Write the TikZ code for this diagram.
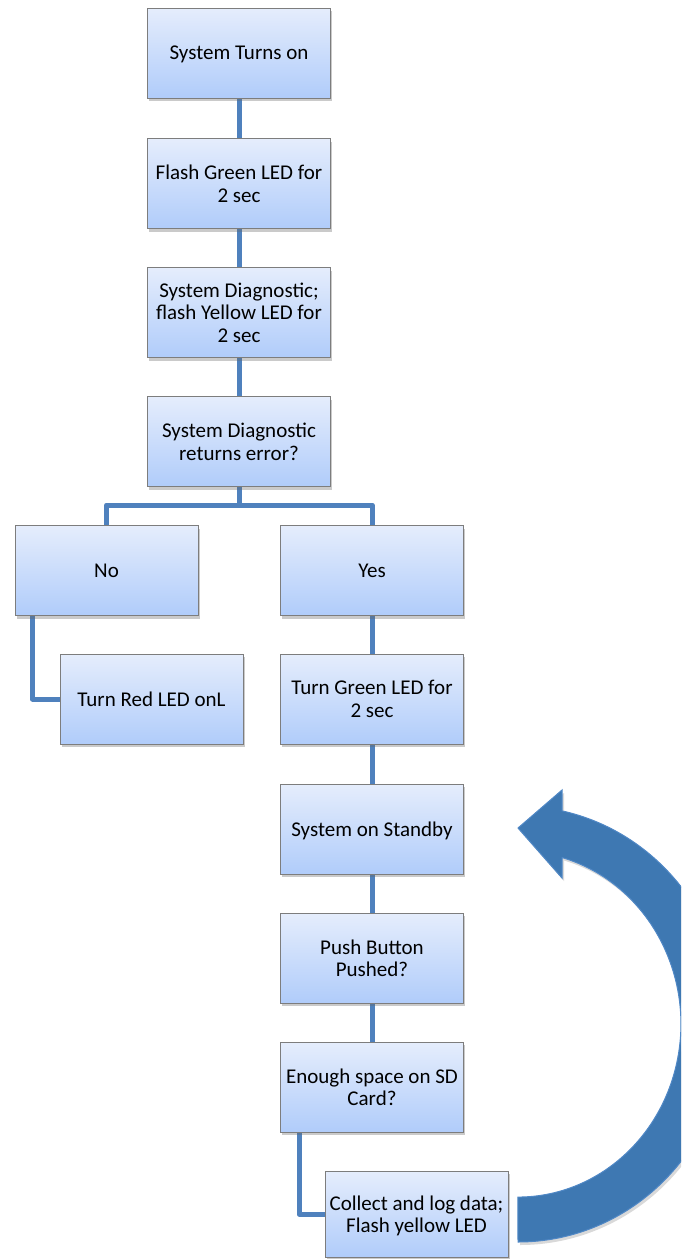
\documentclass[tikz,border=0pt]{standalone}
\usepackage{fontspec}
\setmainfont{Carlito}
\usetikzlibrary{shadows,backgrounds}
\definecolor{boxtop}{RGB}{229,237,252}
\definecolor{boxbot}{RGB}{176,204,250}
\definecolor{boxline}{RGB}{125,125,125}
\definecolor{conn}{RGB}{79,129,189}
\definecolor{arrowfill}{RGB}{62,120,178}
\definecolor{arrowline}{RGB}{80,136,198}
\newcommand\loopArrowPath{(518,-1242) arc[start angle=-90, end angle=77.9, x radius=210pt, y radius=218pt] -- (562,-790) -- (518,-828) -- (562,-878) -- (562,-857.5) arc[start angle=74.3, end angle=-90, x radius=163pt, y radius=173pt] -- cycle}
\tikzset{
  flowbox/.style={draw=boxline, line width=1pt, top color=boxtop, bottom color=boxbot,
    minimum width=183pt, minimum height=90pt, inner sep=2pt, align=center,
    text depth=0pt, font=\fontsize{21}{22.5}\selectfont,
    drop shadow={shadow xshift=1.5pt, shadow yshift=-3pt, opacity=0.35, fill=black!60}},
  link/.style={draw=conn, line width=5pt, line join=round}
}
\begin{document}
\begin{tikzpicture}[x=1pt,y=1pt]
\useasboundingbox (0,0) rectangle (681,-1259);
\node[flowbox] (b1) at (239,-53) {System Turns on};
\node[flowbox] (b2) at (239,-183.5) {Flash Green LED for\\2 sec};
\node[flowbox] (b3) at (239,-312.5) {System Diagnostic;\\flash Yellow LED for\\2 sec};
\node[flowbox] (b4) at (239,-441.5) {System Diagnostic\\returns error?};
\node[flowbox] (no) at (106.5,-570.5) {No};
\node[flowbox] (yes) at (372,-570.5) {Yes};
\node[flowbox] (red) at (151.5,-699) {Turn Red LED onL};
\node[flowbox] (green) at (372,-699) {Turn Green LED for\\2 sec};
\node[flowbox] (standby) at (372,-829) {System on Standby};
\node[flowbox] (push) at (372,-958) {Push Button\\Pushed?};
\node[flowbox] (space) at (372,-1087) {Enough space on SD\\Card?};
\node[flowbox, minimum height=86pt] (collect) at (416.5,-1214) {Collect and log data;\\Flash yellow LED};
\coordinate (bar) at (239,-505);
\begin{scope}[on background layer]
\draw[link] (b1) -- (b2);
\draw[link] (b2) -- (b3);
\draw[link] (b3) -- (b4);
\draw[link] (b4.south) -- (bar);
\draw[link] (no.north) |- (bar) -| (yes.north);
\draw[link] ([xshift=18pt]no.south west) |- (red.west);
\draw[link] (yes) -- (green);
\draw[link] (green) -- (standby);
\draw[link] (standby) -- (push);
\draw[link] (push) -- (space);
\draw[link] ([xshift=19pt]space.south west) |- (collect.west);
\end{scope}
\begin{scope}
\clip (0,0) rectangle (681,-1259);
\fill[black, opacity=0.15, shift={(2,-3)}] \loopArrowPath;
\filldraw[fill=arrowfill, draw=arrowline, line width=1pt] \loopArrowPath;
\end{scope}
\end{tikzpicture}
\end{document}
